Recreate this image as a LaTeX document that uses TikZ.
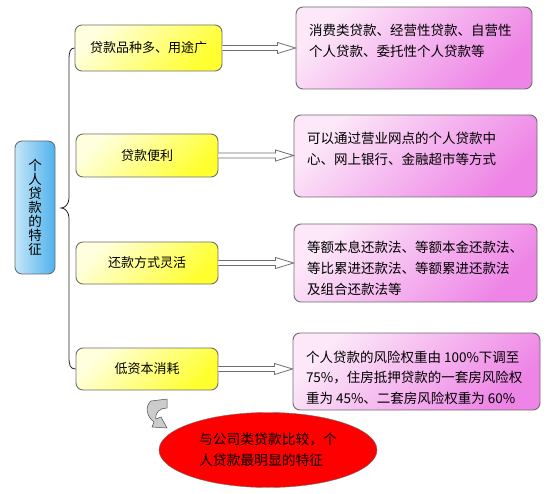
\documentclass[tikz,border=0pt]{standalone}
\usepackage{fontspec}
\setmainfont{Noto Sans CJK SC}
\usepackage{xcolor}
\usepackage{tikz}
\usetikzlibrary{arrows.meta}
\usetikzlibrary{shapes.geometric}
\usetikzlibrary{calc}

\definecolor{edgegray}{HTML}{6E6E6E}
\definecolor{ylight}{HTML}{FFFFE0}
\definecolor{ydark}{HTML}{FFFF30}
\definecolor{plight}{HTML}{FCE8F8}
\definecolor{pdark}{HTML}{EE84E6}
\definecolor{blight}{HTML}{C4E6F8}
\definecolor{bdark}{HTML}{4EB2EC}

\newcommand{\ptext}[3]{\parbox[t][#1][t]{#2}{\raggedright\rule{0pt}{17pt}#3}}
\newcommand{\hollowarrow}[2]{%
  \draw[harrow] ($(#1.east)+(0,-2.5)$) -- ($(#1.east -| #2.west)+(-18,-2.5)$)
    -- ++(0,-3) -- (#1.east -| #2.west) -- ($(#1.east -| #2.west)+(-18,5.5)$)
    -- ++(0,-3) -- ($(#1.east)+(0,2.5)$);}

\begin{document}
\begin{tikzpicture}[x=1pt, y=-1pt,
    item/.style = {rectangle, rounded corners=7pt, draw=edgegray,
                   line width=0.9pt, inner sep=0pt},
    ybox/.style = {item, top color=ylight, bottom color=ydark, shading angle=45,
                   minimum width=142pt, minimum height=42pt,
                   font=\fontsize{13}{15}\selectfont},
    pbox/.style = {item, top color=plight, bottom color=pdark, shading angle=45,
                   inner xsep=13pt, inner ysep=12pt,
                   font=\fontsize{13.5}{20.5}\selectfont},
    bbox/.style = {item, left color=blight, right color=bdark,
                   minimum width=40pt, minimum height=133pt, align=center,
                   font=\fontsize{13.5}{14}\selectfont},
    harrow/.style = {draw=edgegray, fill=white, line width=0.8pt}]
  \useasboundingbox (0,0) rectangle (551,494);

  \node (feat) [bbox] at (35,207.5) {个\\人\\贷\\款\\的\\特\\征};

  \node (y1) [ybox, minimum width=147pt, minimum height=46pt] at (148.5,48) {贷款品种多、用途广};
  \node (y2) [ybox, minimum height=43pt] at (147,155.5) {贷款便利};
  \node (y3) [ybox] at (147,263) {还款方式灵活};
  \node (y4) [ybox] at (147,369) {低资本消耗};

  \node (p1) [pbox] at (414,48) {\ptext{58pt}{210pt}{%
    消费类贷款、经营性贷款、自营性\\个人贷款、委托性个人贷款等}};
  \node (p2) [pbox] at (415.5,156) {\ptext{58pt}{217pt}{%
    可以通过营业网点的个人贷款中\\心、网上银行、金融超市等方式}};
  \node (p3) [pbox] at (415.5,263) {\ptext{54pt}{217pt}{%
    等额本息还款法、等额本金还款法、\\等比累进还款法、等额累进还款法\\及组合还款法等}};
  \node (p4) [pbox] at (416.5,371.5) {\ptext{53pt}{221pt}{%
    个人贷款的风险权重由 100\%下调至\\75\%，住房抵押贷款的一套房风险权\\重为 45\%、二套房风险权重为 60\%}};

  \node (oval) [ellipse, draw=edgegray, fill=red, minimum width=218pt,
    minimum height=75pt, inner sep=0pt, align=left,
    font=\fontsize{13.8}{20.5}\selectfont] at (268,450)
    {与公司类贷款比较，个\\人贷款最明显的特征};

  \coordinate (tip) at (61,208);
  \draw[black!85, line width=0.8pt] (y1.west) .. controls (70,48) and (69,52) .. (69,60)
    -- (69,198) .. controls (69,204) and (65,208) .. (tip)
    .. controls (65,208) and (69,212) .. (69,218)
    -- (69,357) .. controls (69,365) and (70,369) .. (y4.west);

  \hollowarrow{y1}{p1}
  \hollowarrow{y2}{p2}
  \hollowarrow{y3}{p3}
  \hollowarrow{y4}{p4}

  \filldraw[fill=gray!40, draw=black!70, line width=0.5pt]
    (151,401) -- (167,399) -- (167,408)
    .. controls (160,408) and (155,412) .. (156,419)
    -- (161,417) -- (167,428) -- (152,427) -- (154,422)
    .. controls (146,416) and (145,406) .. cycle;
\end{tikzpicture}
\end{document}
